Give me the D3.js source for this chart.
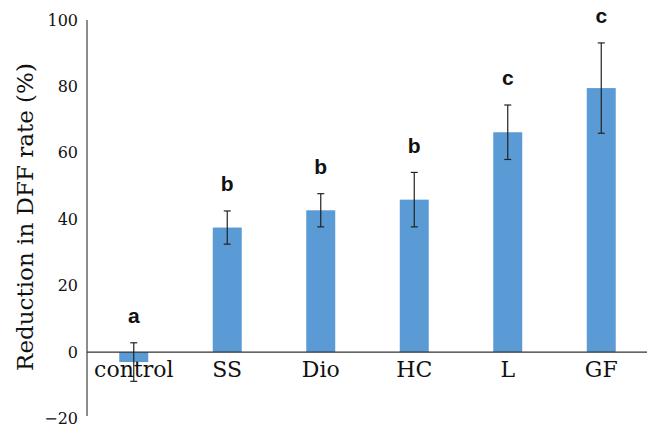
<!DOCTYPE html>
<html>
<head>
<meta charset="utf-8">
<script src="https://cdn.jsdelivr.net/npm/d3@7"></script>
<style>
  body { margin: 0; background: #fff; }
</style>
</head>
<body>
<div id="container"></div>
<script>
let w = 647;
let h = 424;

let groups = ["control", "SS", "Dio", "HC", "L", "GF"];
let means = [-3, 37.5, 42.7, 45.9, 66.2, 79.5];
let errs = [5.8, 5, 5, 8.2, 8.2, 13.6];
let letters = ["a", "b", "b", "b", "c", "c"];
let yTicks = [-20, 0, 20, 40, 60, 80, 100];

let left = 87;

let viz = d3.select("#container")
  .append("svg")
    .attr("width", w)
    .attr("height", h)
    .style("background-color", "#fff");

let y = d3.scaleLinear().domain([-20, 100]).range([418.5, 20]);
let x = d3.scaleBand().domain(groups).range([left, left + 6 * 93.5]).paddingInner(0.69).paddingOuter(0.345);

// y axis
let yAxis = viz.append("g")
  .attr("transform", "translate(" + left + ",0)")
  .call(d3.axisLeft(y).tickValues(yTicks).tickSize(0).tickPadding(9).tickFormat(d => d < 0 ? "\u2212" + Math.abs(d) : d));
yAxis.select(".domain").attr("stroke", "#666").attr("stroke-width", 1.5).attr("d", "M0," + y(100) + "V" + 416);
yAxis.selectAll("text")
  .attr("font-family", "'DejaVu Serif', serif")
  .attr("font-size", 16)
  .attr("fill", "#111");

// bars
viz.selectAll(".bar").data(groups).enter()
  .append("rect")
    .attr("class", "bar")
    .attr("x", d => x(d))
    .attr("width", x.bandwidth())
    .attr("y", (d, i) => y(Math.max(0, means[i])))
    .attr("height", (d, i) => Math.abs(y(means[i]) - y(0)))
    .attr("fill", "#5b9bd5");

// zero line
viz.append("line")
  .attr("x1", left).attr("x2", w)
  .attr("y1", y(0)).attr("y2", y(0))
  .attr("stroke", "#333").attr("stroke-width", 1.2);

// error bars
let eb = viz.selectAll(".err").data(groups).enter().append("g").attr("class", "err")
  .attr("transform", d => "translate(" + (x(d) + x.bandwidth() / 2) + ",0)");
eb.append("line")
  .attr("y1", (d, i) => y(means[i] + errs[i]))
  .attr("y2", (d, i) => y(means[i] - errs[i]))
  .attr("stroke", "#222").attr("stroke-width", 1.2);
eb.append("line")
  .attr("x1", -3.5).attr("x2", 3.5)
  .attr("y1", (d, i) => y(means[i] + errs[i]))
  .attr("y2", (d, i) => y(means[i] + errs[i]))
  .attr("stroke", "#222").attr("stroke-width", 1.2);
eb.append("line")
  .attr("x1", -3.5).attr("x2", 3.5)
  .attr("y1", (d, i) => y(means[i] - errs[i]))
  .attr("y2", (d, i) => y(means[i] - errs[i]))
  .attr("stroke", "#222").attr("stroke-width", 1.2);

// significance letters
eb.append("text")
  .attr("y", (d, i) => y(means[i] + errs[i]) - 27)
  .attr("dy", "0.35em")
  .attr("text-anchor", "middle")
  .attr("font-family", "'Liberation Sans', Arial, sans-serif")
  .attr("font-weight", "bold")
  .attr("font-size", 21)
  .attr("fill", "#111")
  .text((d, i) => letters[i]);

// category labels
viz.selectAll(".cat").data(groups).enter()
  .append("text")
    .attr("class", "cat")
    .attr("x", d => x(d) + x.bandwidth() / 2)
    .attr("y", y(0) + 17)
    .attr("dy", "0.35em")
    .attr("text-anchor", "middle")
    .attr("font-family", "'DejaVu Serif', serif")
    .attr("font-size", 22)
    .attr("fill", "#111")
    .text(d => d);

// y label
viz.append("text")
  .attr("transform", "translate(25," + 217 + ") rotate(-90)")
  .attr("dy", "0.35em")
  .attr("text-anchor", "middle")
  .attr("font-family", "'DejaVu Serif', serif")
  .attr("font-size", 23)
  .attr("fill", "#111")
  .text("Reduction in DFF rate (%)");
</script>
</body>
</html>
